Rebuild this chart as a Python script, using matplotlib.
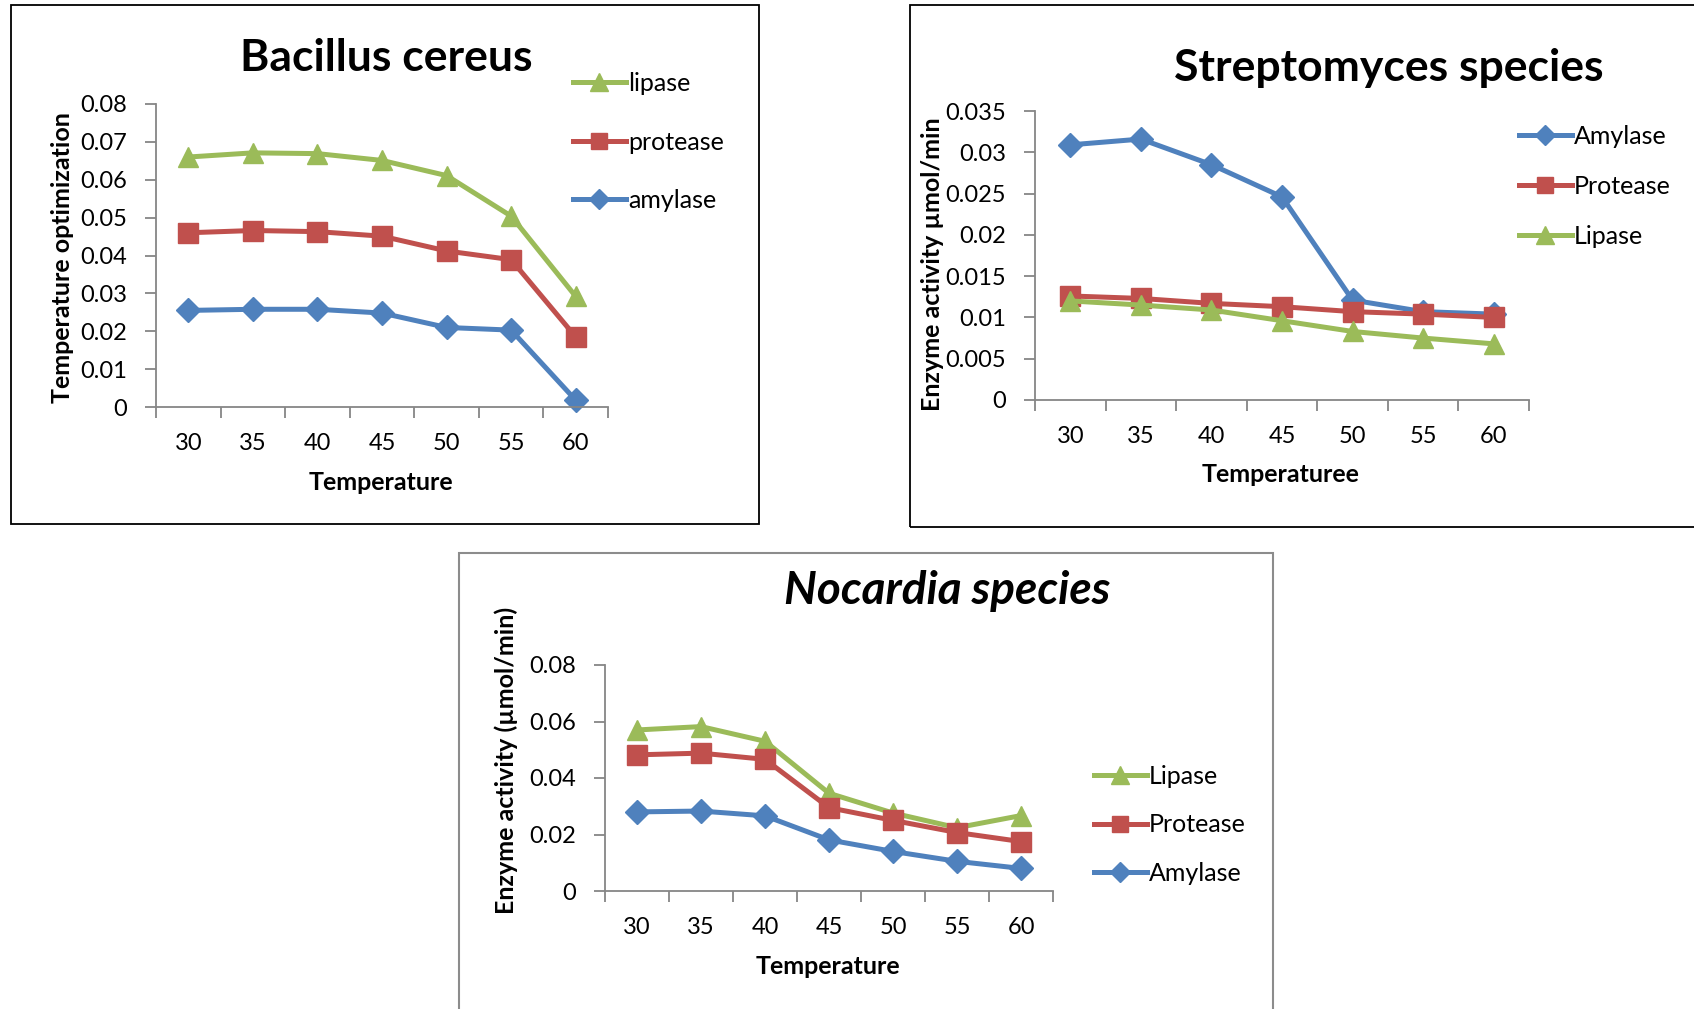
import matplotlib
matplotlib.use("Agg")
import matplotlib.pyplot as plt
from matplotlib.patches import Rectangle
from matplotlib.ticker import FixedLocator, FuncFormatter

plt.rcParams['font.family'] = ['Lato', 'DejaVu Sans']

# ---- data ----
temps = ['30', '35', '40', '45', '50', '55', '60']

# Bacillus cereus
bc_lipase = [0.066, 0.0671, 0.0669, 0.0651, 0.0611, 0.0504, 0.0292]
bc_protease = [0.0460, 0.0466, 0.0463, 0.0451, 0.0412, 0.0389, 0.0185]
bc_amylase = [0.0255, 0.0258, 0.0258, 0.0248, 0.0210, 0.0203, 0.0018]

# Streptomyces species
st_amylase = [0.0309, 0.0316, 0.0285, 0.0246, 0.0121, 0.0107, 0.0104]
st_protease = [0.0126, 0.0123, 0.0117, 0.0113, 0.0107, 0.0104, 0.0100]
st_lipase = [0.0120, 0.0115, 0.0109, 0.0096, 0.0083, 0.0075, 0.0068]

# Nocardia species
no_lipase = [0.0570, 0.0582, 0.0530, 0.0346, 0.0276, 0.0224, 0.0267]
no_protease = [0.0482, 0.0488, 0.0466, 0.0295, 0.0250, 0.0207, 0.0175]
no_amylase = [0.0280, 0.0283, 0.0266, 0.0181, 0.0140, 0.0105, 0.0080]

BLUE = '#4F81BD'
RED = '#C0504D'
GREEN = '#9BBB59'
AXC = '#868686'

TICK_FS = 17
LAB_FS = 18
LEG_FS = 18
TITLE_FS = 32

W, H = 1694, 1009
fig = plt.figure(figsize=(W / 100, H / 100), dpi=100)


def px_rect(x0, y0, x1, y1):
    # pixel box (top-left origin) -> figure fraction [l, b, w, h]
    return [x0 / W, 1 - y1 / H, (x1 - x0) / W, (y1 - y0) / H]


def fmt(v, pos):
    return ('%.3f' % v).rstrip('0').rstrip('.')


def setup(ax, ymax, ystep):
    n = len(temps)
    ax.set_xlim(-0.5, n - 0.5)
    ax.set_ylim(0, ymax)
    for s in ['top', 'right']:
        ax.spines[s].set_visible(False)
    for s in ['left', 'bottom']:
        ax.spines[s].set_color(AXC)
        ax.spines[s].set_linewidth(1.3)
    ax.set_xticks(range(n))
    ax.set_xticklabels(temps)
    ax.xaxis.set_minor_locator(FixedLocator([i - 0.5 for i in range(n + 1)]))
    ax.tick_params(axis='x', which='major', length=0, pad=19, labelsize=TICK_FS)
    ax.tick_params(axis='x', which='minor', length=8, width=1.3, color=AXC, direction='out')
    nt = int(round(ymax / ystep))
    ax.set_yticks([i * ystep for i in range(nt + 1)])
    ax.yaxis.set_major_formatter(FuncFormatter(fmt))
    ax.tick_params(axis='y', length=8, width=1.3, color=AXC, direction='out', pad=13, labelsize=TICK_FS)
    ax.set_facecolor('none')


def plot_series(ax, series):
    for vals, color, marker, ms, label in series:
        ax.plot(range(len(temps)), vals, color=color, lw=3.6, marker=marker, ms=ms,
                mec=color, mfc=color, label=label, clip_on=False)


def add_legend(ax, x, y, spacing):
    ax.legend(loc='center left', bbox_to_anchor=(x / W, 1 - y / H), bbox_transform=fig.transFigure,
              frameon=False, fontsize=LEG_FS, handlelength=2.1, handletextpad=0.1,
              labelspacing=spacing, markerscale=0.85, borderpad=0, borderaxespad=0)


tri = ('^', 15)
sq = ('s', 14)
dia = ('D', 12)

# ---- panel borders ----
fig.patches.append(Rectangle((11 / W, 1 - 524 / H), (759 - 11) / W, (524 - 5) / H,
                             transform=fig.transFigure, fill=False, ec='black', lw=1.3))
fig.patches.append(Rectangle((910 / W, 1 - 527 / H), (1720 - 910) / W, (527 - 5) / H,
                             transform=fig.transFigure, fill=False, ec='black', lw=1.3))
fig.patches.append(Rectangle((459 / W, 1 - 1030 / H), (1273 - 459) / W, (1030 - 553) / H,
                             transform=fig.transFigure, fill=False, ec='#8c8c8c', lw=1.5))

# ---- Bacillus cereus ----
ax1 = fig.add_axes(px_rect(156, 104, 608, 407))
setup(ax1, 0.08, 0.01)
plot_series(ax1, [(bc_lipase, GREEN, *tri, 'lipase'),
                  (bc_protease, RED, *sq, 'protease'),
                  (bc_amylase, BLUE, *dia, 'amylase')])
fig.text(386 / W, 1 - 58 / H, 'Bacillus cereus', ha='center', va='center',
         fontsize=TITLE_FS, fontweight='bold')
fig.text(63 / W, 1 - 258 / H, 'Temperature optimization', ha='center', va='center',
         rotation=90, fontsize=LAB_FS, fontweight='bold')
fig.text(381 / W, 1 - 482 / H, 'Temperature', ha='center', va='center',
         fontsize=LAB_FS, fontweight='bold')
add_legend(ax1, 573, 142, 1.42)

# ---- Streptomyces species ----
ax2 = fig.add_axes(px_rect(1035, 111, 1529, 400))
setup(ax2, 0.035, 0.005)
plot_series(ax2, [(st_amylase, BLUE, *dia, 'Amylase'),
                  (st_protease, RED, *sq, 'Protease'),
                  (st_lipase, GREEN, *tri, 'Lipase')])
fig.text(1389 / W, 1 - 68 / H, 'Streptomyces species', ha='center', va='center',
         fontsize=TITLE_FS, fontweight='bold')
fig.text(932 / W, 1 - 264 / H, 'Enzyme activity µmol/min', ha='center', va='center',
         rotation=90, fontsize=LAB_FS, fontweight='bold')
fig.text(1281 / W, 1 - 475 / H, 'Temperaturee', ha='center', va='center',
         fontsize=LAB_FS, fontweight='bold')
add_legend(ax2, 1519, 186, 1.08)

# ---- Nocardia species ----
ax3 = fig.add_axes(px_rect(605, 665, 1053, 891))
setup(ax3, 0.08, 0.02)
plot_series(ax3, [(no_lipase, GREEN, *tri, 'Lipase'),
                  (no_protease, RED, *sq, 'Protease'),
                  (no_amylase, BLUE, *dia, 'Amylase')])
fig.text(947 / W, 1 - 591 / H, 'Nocardia species', ha='center', va='center',
         fontsize=33, fontweight='bold', fontstyle='italic')
fig.text(506 / W, 1 - 760 / H, 'Enzyme activity (µmol/min)', ha='center', va='center',
         rotation=90, fontsize=LAB_FS, fontweight='bold')
fig.text(828 / W, 1 - 967 / H, 'Temperature', ha='center', va='center',
         fontsize=LAB_FS, fontweight='bold')
add_legend(ax3, 1094, 825, 1.02)

fig.savefig('out.png', dpi=100, facecolor='white')
